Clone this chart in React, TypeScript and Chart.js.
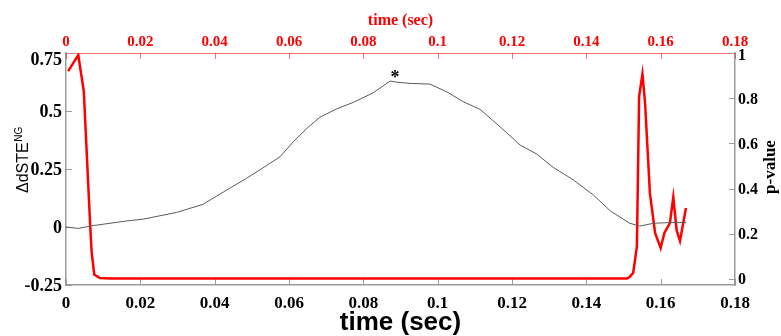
import React, { useEffect, useRef } from "react";
import { Chart, registerables } from "chart.js";

Chart.register(...registerables);

const X_TICKS = [0, 0.02, 0.04, 0.06, 0.08, 0.1, 0.12, 0.14, 0.16, 0.18];
const LEFT_TICKS = [-0.25, 0, 0.25, 0.5, 0.75];
const RIGHT_TICKS = [0, 0.2, 0.4, 0.6, 0.8, 1];

const DSTE_TIME = [0, 0.0033, 0.0073, 0.0163, 0.0208, 0.0298, 0.0369, 0.0432, 0.0486, 0.0535, 0.0576, 0.0612, 0.0648, 0.0683, 0.0728, 0.0773, 0.0827, 0.0872, 0.089, 0.0926, 0.0979, 0.1024, 0.1069, 0.1114, 0.1168, 0.1222, 0.1266, 0.1311, 0.1365, 0.1419, 0.1464, 0.1517, 0.1544, 0.158, 0.1625, 0.1668];
const DSTE_VALUES = [0, -0.006, 0.006, 0.026, 0.034, 0.063, 0.098, 0.159, 0.21, 0.26, 0.303, 0.368, 0.425, 0.473, 0.509, 0.537, 0.579, 0.629, 0.624, 0.619, 0.616, 0.583, 0.54, 0.507, 0.432, 0.353, 0.315, 0.257, 0.203, 0.138, 0.07, 0.016, 0.004, 0.016, 0.019, 0.019];

const P_TIME = [0.0006, 0.0033, 0.0048, 0.0065, 0.0069, 0.0076, 0.0091, 0.012, 0.03, 0.06, 0.09, 0.12, 0.151, 0.1517, 0.1526, 0.1536, 0.1542, 0.1551, 0.1558, 0.1571, 0.1585, 0.16, 0.161, 0.1625, 0.1634, 0.1643, 0.1652, 0.1668];
const P_VALUES = [0.92, 0.991, 0.829, 0.239, 0.12, 0.02, 0.004, 0.002, 0.002, 0.002, 0.002, 0.002, 0.002, 0.01, 0.027, 0.143, 0.807, 0.907, 0.78, 0.381, 0.204, 0.137, 0.204, 0.248, 0.362, 0.216, 0.168, 0.314];

const PEAK_TIME = 0.0885;
const PEAK_VALUE = 0.66;
const PEAK_MARK = "*";

const X_TITLE = "time (sec)";
const LEFT_TITLE = "\u0394dSTE";
const LEFT_TITLE_SUP = "NG";
const RIGHT_TITLE = "p-value";

const fmt = (v: number) => String(Number(v.toFixed(2)));

const AXIS_GREY = "#9a9a9a";
const TOP_RED = "rgba(255,0,0,0.55)";
const SERIF = "'Liberation Serif', 'Times New Roman', serif";
const SANS = "'Liberation Sans', Arial, sans-serif";

const decorPlugin = {
  id: "decor",
  beforeDatasetsDraw(chart: any) {
    const ctx = chart.ctx;
    const { left, right, top, bottom } = chart.chartArea;
    const L = 6;
    ctx.save();
    ctx.lineWidth = 1;
    ctx.strokeStyle = AXIS_GREY;
    for (const v of X_TICKS) {
      const px = Math.round(chart.scales.x.getPixelForValue(v)) + 0.5;
      ctx.beginPath(); ctx.moveTo(px, bottom); ctx.lineTo(px, bottom - L); ctx.stroke();
    }
    for (const v of LEFT_TICKS) {
      const py = Math.round(chart.scales.y.getPixelForValue(v)) + 0.5;
      ctx.beginPath(); ctx.moveTo(left, py); ctx.lineTo(left + L, py); ctx.stroke();
    }
    for (const v of RIGHT_TICKS) {
      const py = Math.round(chart.scales.y2.getPixelForValue(v)) + 0.5;
      ctx.beginPath(); ctx.moveTo(right, py); ctx.lineTo(right - L, py); ctx.stroke();
    }
    ctx.strokeStyle = TOP_RED;
    for (const v of X_TICKS) {
      const px = Math.round(chart.scales.x2.getPixelForValue(v)) + 0.5;
      ctx.beginPath(); ctx.moveTo(px, top); ctx.lineTo(px, top + L); ctx.stroke();
    }
    ctx.restore();
  },
  afterDraw(chart: any) {
    const ctx = chart.ctx;
    const { left, right, top } = chart.chartArea;
    const cx = (left + right) / 2;
    ctx.save();
    ctx.textBaseline = "alphabetic";

    // tick labels: bottom
    ctx.fillStyle = "#000";
    ctx.font = `bold 17px ${SERIF}`;
    ctx.textAlign = "center";
    for (const v of X_TICKS) {
      ctx.fillText(fmt(v), chart.scales.x.getPixelForValue(v), 308);
    }
    // top
    ctx.fillStyle = "#ff0000";
    ctx.font = `bold 15px ${SERIF}`;
    for (const v of X_TICKS) {
      ctx.fillText(fmt(v), chart.scales.x2.getPixelForValue(v), 45.5);
    }
    // left
    ctx.fillStyle = "#000";
    ctx.font = `bold 18px ${SERIF}`;
    ctx.textAlign = "right";
    for (const v of LEFT_TICKS) {
      const py = Math.max(chart.scales.y.getPixelForValue(v), top + 6);
      ctx.fillText(fmt(v), 62, py + 6);
    }
    // right
    ctx.font = `bold 16px ${SERIF}`;
    ctx.textAlign = "left";
    for (const v of RIGHT_TICKS) {
      const py = Math.max(chart.scales.y2.getPixelForValue(v), top + 2);
      ctx.fillText(fmt(v), 738, py + 5.3);
    }

    // top title
    ctx.fillStyle = "#ff0000";
    ctx.font = `bold 16px ${SERIF}`;
    ctx.textAlign = "center";
    ctx.textBaseline = "middle";
    ctx.fillText(X_TITLE, cx, 21);
    // bottom title
    ctx.fillStyle = "#000";
    ctx.font = `bold 26px ${SANS}`;
    ctx.fillText(X_TITLE, cx, 323);
    // left title rotated
    ctx.save();
    ctx.translate(28, 193);
    ctx.rotate(-Math.PI / 2);
    ctx.textAlign = "left";
    ctx.textBaseline = "alphabetic";
    ctx.font = `16px ${SANS}`;
    ctx.fillStyle = "#000";
    ctx.fillText(LEFT_TITLE, 0, 0);
    const w = ctx.measureText(LEFT_TITLE).width;
    ctx.font = `10px ${SANS}`;
    ctx.fillText(LEFT_TITLE_SUP, w + 0.5, -6);
    ctx.restore();
    // right title rotated
    ctx.save();
    ctx.translate(771, 167);
    ctx.rotate(-Math.PI / 2);
    ctx.textAlign = "center";
    ctx.textBaseline = "middle";
    ctx.font = `bold 17px ${SERIF}`;
    ctx.fillStyle = "#000";
    ctx.fillText(RIGHT_TITLE, 0, 0);
    ctx.restore();
    // asterisk
    const px = chart.scales.x.getPixelForValue(PEAK_TIME);
    const py = chart.scales.y.getPixelForValue(PEAK_VALUE);
    ctx.font = `bold 18px ${SERIF}`;
    ctx.textAlign = "center";
    ctx.textBaseline = "middle";
    ctx.fillStyle = "#000";
    ctx.fillText(PEAK_MARK, px, py + 4);
    ctx.restore();
  },
};

export default function App() {
  const ref = useRef<HTMLCanvasElement | null>(null);
  useEffect(() => {
    if (!ref.current) return;
    const setTicks = (arr: number[]) => (scale: any) => {
      scale.ticks = arr.map((v) => ({ value: v }));
    };
    const chart = new Chart(ref.current, {
      type: "line",
      data: {
        datasets: [
          {
            label: "dSTE",
            data: DSTE_TIME.map((t, i) => ({ x: t, y: DSTE_VALUES[i] })),
            borderColor: "#5a5a5a",
            borderWidth: 1,
            pointRadius: 0,
            tension: 0,
            xAxisID: "x",
            yAxisID: "y",
          },
          {
            label: "p",
            data: P_TIME.map((t, i) => ({ x: t, y: P_VALUES[i] })),
            borderColor: "#ff0000",
            borderWidth: 2.5,
            pointRadius: 0,
            tension: 0,
            xAxisID: "x",
            yAxisID: "y2",
          },
        ],
      },
      options: {
        animation: false,
        responsive: false,
        events: [],
        layout: { padding: 0 },
        plugins: { legend: { display: false }, tooltip: { enabled: false } },
        scales: {
          x: {
            type: "linear",
            position: "bottom",
            min: 0,
            max: 0.18,
            afterBuildTicks: setTicks(X_TICKS),
            afterFit: (s: any) => { s.height = 51; },
            grid: { display: false },
            border: { display: true, color: AXIS_GREY, width: 1.5 },
            ticks: { display: false },
          },
          x2: {
            type: "linear",
            position: "top",
            min: 0,
            max: 0.18,
            afterBuildTicks: setTicks(X_TICKS),
            afterFit: (s: any) => { s.height = 53; },
            grid: { display: false },
            border: { display: true, color: TOP_RED, width: 1 },
            ticks: { display: false },
          },
          y: {
            type: "linear",
            position: "left",
            min: -0.25,
            max: 0.75,
            afterBuildTicks: setTicks(LEFT_TICKS),
            afterFit: (s: any) => { s.width = 66; },
            grid: { display: false },
            border: { display: true, color: AXIS_GREY, width: 1.5 },
            ticks: { display: false },
          },
          y2: {
            type: "linear",
            position: "right",
            min: -0.0265,
            max: 1,
            afterBuildTicks: setTicks(RIGHT_TICKS),
            afterFit: (s: any) => { s.width = 46; },
            grid: { display: false },
            border: { display: true, color: AXIS_GREY, width: 1.5 },
            ticks: { display: false },
          },
        },
      },
      plugins: [decorPlugin],
    } as any);
    return () => chart.destroy();
  }, []);
  return (
    <div style={{ position: "absolute", left: 0, top: 0, width: 781, height: 336, background: "#fff" }}>
      <canvas ref={ref} width={781} height={336} />
    </div>
  );
}
